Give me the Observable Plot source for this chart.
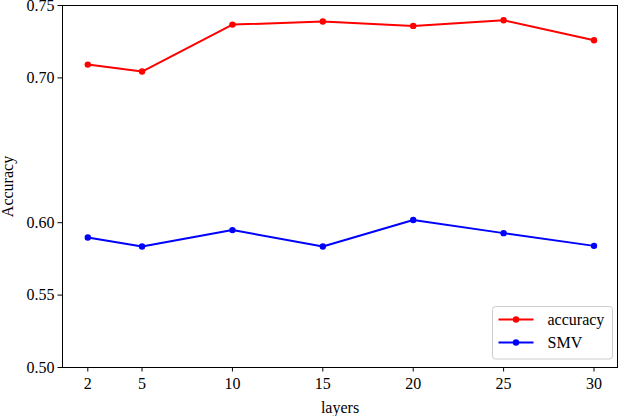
<!DOCTYPE html>
<html>
<head>
<meta charset="utf-8">
<script src="https://cdn.jsdelivr.net/npm/d3@7"></script>
<script src="https://cdn.jsdelivr.net/npm/@observablehq/plot@0.6"></script>
<style>
  html, body { margin: 0; padding: 0; background: white; }
  #chart { width: 622px; height: 416px; }
  #chart svg, #chart svg text {
    font-family: 'Liberation Serif', 'Times New Roman', serif !important;
    font-size: 16px !important;
  }
</style>
</head>
<body>
<div id="chart"></div>
<script>
const layers = [2, 5, 10, 15, 20, 25, 30];
const accuracy = [0.7092, 0.7044, 0.7368, 0.7389, 0.7359, 0.7398, 0.7260];
const smv = [0.5898, 0.5836, 0.5949, 0.5836, 0.6019, 0.5928, 0.5840];
const yTicks = [0.50, 0.55, 0.60, 0.70, 0.75];
const seriesNames = ["accuracy", "SMV"];
const seriesColors = ["#ff0000", "#0000ff"];

const rows = [];
layers.forEach((l, i) => {
  rows.push({layer: l, value: accuracy[i], series: seriesNames[0]});
  rows.push({layer: l, value: smv[i], series: seriesNames[1]});
});

const plot = Plot.plot({
  width: 622,
  height: 416,
  marginLeft: 62,
  marginRight: 5,
  marginTop: 5,
  marginBottom: 49,
  style: {background: "white", color: "black"},
  x: {domain: [0.6, 31.3]},
  y: {domain: [0.5, 0.75]},
  color: {domain: seriesNames, range: seriesColors},
  marks: [
    Plot.axisX({ticks: layers, tickSize: 4.5, tickPadding: 6, tickFormat: d => String(d),
      label: "layers", labelAnchor: "center", labelOffset: 45, labelArrow: "none"}),
    Plot.axisY({ticks: yTicks, tickSize: 4.5, tickPadding: 3.5, tickFormat: d3.format(".2f"),
      label: "Accuracy", labelAnchor: "center", labelOffset: 61, labelArrow: "none"}),
    Plot.line(rows, {x: "layer", y: "value", z: "series", stroke: "series", strokeWidth: 2}),
    Plot.dot(rows, {x: "layer", y: "value", fill: "series", r: 3.2}),
    Plot.frame({stroke: "black", strokeWidth: 1})
  ]
});

document.getElementById("chart").appendChild(plot);

// Legend (inside lower right of axes)
const svg = d3.select(plot);
const lg = svg.append("g").attr("text-anchor", "start");
const lx = 492.5, ly = 306.5, lw = 120, lh = 52.5;
lg.append("rect").attr("x", lx).attr("y", ly).attr("width", lw).attr("height", lh)
  .attr("rx", 3).attr("fill", "white").attr("fill-opacity", 0.8)
  .attr("stroke", "#cccccc").attr("stroke-width", 1);
seriesNames.forEach((name, i) => {
  const cy = ly + 13 + i * 23;
  lg.append("line").attr("x1", lx + 6).attr("x2", lx + 41).attr("y1", cy).attr("y2", cy)
    .attr("stroke", seriesColors[i]).attr("stroke-width", 2);
  lg.append("circle").attr("cx", lx + 23.5).attr("cy", cy).attr("r", 3.2).attr("fill", seriesColors[i]);
  lg.append("text").attr("x", lx + 55).attr("y", cy).attr("dy", "0.32em")
    .attr("text-anchor", "start").text(name);
});
</script>
</body>
</html>
